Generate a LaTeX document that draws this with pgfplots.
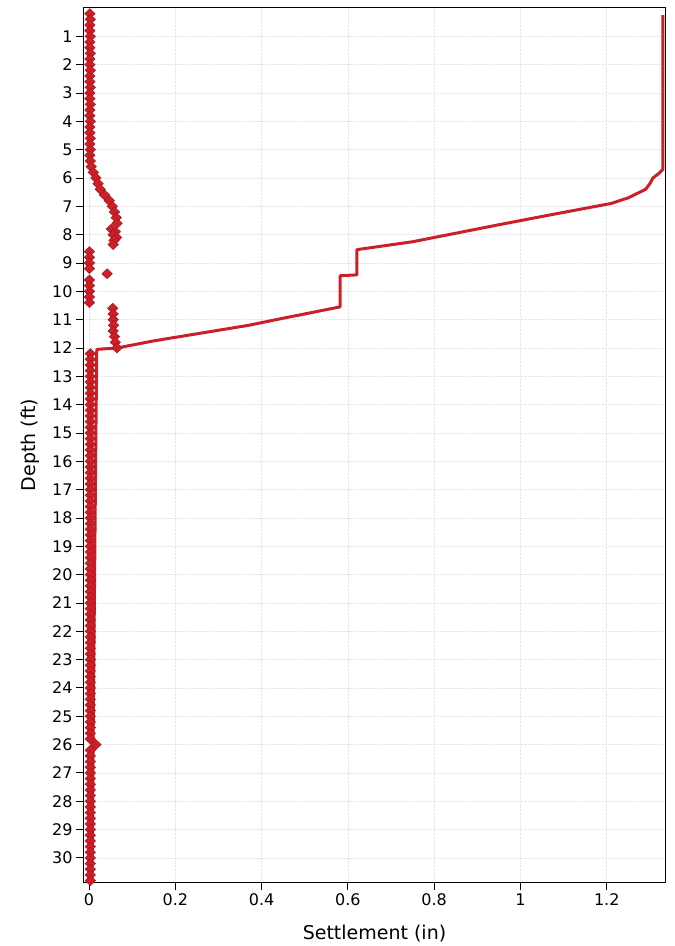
\documentclass[border=0pt]{standalone}
\usepackage{fontspec}
\setmainfont{DejaVu Sans}
\usepackage{pgfplots}
\pgfplotsset{compat=1.18}
\definecolor{setred}{RGB}{204,32,40}
\definecolor{setdark}{RGB}{170,20,30}
\begin{document}
\begin{tikzpicture}
\begin{axis}[
  name=ax,
  scale only axis,
  width=581pt, height=874pt,
  xmin=-0.0116, xmax=1.335,
  ymin=0, ymax=30.85,
  y dir=reverse,
  xtick={0,0.2,0.4,0.6,0.8,1,1.2},
  ytick={1,2,...,30},
  tick align=outside,
  xtick pos=left, ytick pos=left,
  major tick length=8pt,
  tick style={black, line width=0.9pt},
  axis line style={black, line width=1pt},
  grid=major,
  major grid style={gray!20, densely dotted, line width=0.6pt},
  /pgf/number format/assume math mode=true,
  tick label style={font=\fontsize{16}{19}\selectfont},
  every axis y label/.style={at={(axis description cs:0,0.5)}, xshift=-54pt, rotate=90, anchor=center, font=\fontsize{19}{23}\selectfont},
  every axis x label/.style={at={(axis description cs:0.5,0)}, anchor=center, yshift=-52pt, font=\fontsize{19}{23}\selectfont},
  xlabel={Settlement (in)},
  ylabel={Depth (ft)},
]
% incremental settlement (diamonds)
\addplot[only marks, mark=diamond*, mark size=5pt, color=setred,
  mark options={xscale=1.4, fill=setred, draw=setdark, line width=0.5pt}]
coordinates {
(0.002,0.2)(0.003,0.4)(0.002,0.6)(0.002,0.8)(0.003,1.0)(0.002,1.2)(0.002,1.4)
(0.003,1.6)(0.002,1.8)(0.002,2.0)(0.003,2.2)(0.002,2.4)(0.002,2.6)(0.003,2.8)
(0.002,3.0)(0.002,3.2)(0.003,3.4)(0.002,3.6)(0.002,3.8)(0.003,4.0)(0.002,4.2)
(0.002,4.4)(0.003,4.6)(0.002,4.8)(0.003,5.0)(0.002,5.2)(0.003,5.4)
(0.005,5.6)(0.010,5.8)(0.016,6.0)(0.021,6.2)(0.026,6.4)(0.036,6.6)(0.047,6.8)
(0.054,7.0)(0.059,7.2)(0.063,7.4)(0.065,7.6)(0.052,7.8)(0.061,7.9)(0.056,8.0)
(0.064,8.1)(0.058,8.2)(0.056,8.35)
(0.001,8.6)(0.001,8.8)(0.001,9.0)(0.001,9.2)(0.042,9.38)(0.001,9.6)(0.001,9.8)
(0.001,10.0)(0.001,10.2)(0.001,10.4)
(0.055,10.6)(0.056,10.8)(0.056,11.0)(0.057,11.2)(0.056,11.4)(0.059,11.6)
(0.061,11.8)(0.065,12.0)
(0.003,12.2)(0.003,12.4)(0.003,12.6)(0.003,12.8)(0.003,13.0)(0.003,13.2)
(0.003,13.4)(0.003,13.6)(0.003,13.8)(0.003,14.0)(0.003,14.2)(0.003,14.4)
(0.003,14.6)(0.003,14.8)(0.003,15.0)(0.003,15.2)(0.003,15.4)(0.003,15.6)
(0.003,15.8)(0.003,16.0)(0.003,16.2)(0.003,16.4)(0.003,16.6)(0.003,16.8)
(0.003,17.0)(0.003,17.2)(0.003,17.4)(0.003,17.6)(0.003,17.8)(0.003,18.0)
(0.003,18.2)(0.003,18.4)(0.003,18.6)(0.003,18.8)(0.003,19.0)(0.003,19.2)
(0.003,19.4)(0.003,19.6)(0.003,19.8)(0.003,20.0)(0.003,20.2)(0.003,20.4)
(0.003,20.6)(0.003,20.8)(0.003,21.0)(0.003,21.2)(0.003,21.4)(0.003,21.6)
(0.003,21.8)(0.003,22.0)(0.003,22.2)(0.003,22.4)(0.003,22.6)(0.003,22.8)
(0.003,23.0)(0.003,23.2)(0.003,23.4)(0.003,23.6)(0.003,23.8)(0.003,24.0)
(0.003,24.2)(0.003,24.4)(0.003,24.6)(0.003,24.8)(0.003,25.0)(0.003,25.2)
(0.003,25.4)(0.003,25.6)(0.003,25.8)(0.016,26.0)(0.003,26.2)(0.003,26.4)
(0.003,26.6)(0.003,26.8)(0.003,27.0)(0.003,27.2)(0.003,27.4)(0.003,27.6)
(0.003,27.8)(0.003,28.0)(0.003,28.2)(0.003,28.4)(0.003,28.6)(0.003,28.8)
(0.003,29.0)(0.003,29.2)(0.003,29.4)(0.003,29.6)(0.003,29.8)(0.003,30.0)
(0.003,30.2)(0.003,30.4)(0.003,30.6)(0.003,30.8)
};
% cumulative settlement (line)
\addplot[color=setred, line width=3pt, mark=none, line join=round]
coordinates {
(1.330,0.25)(1.330,5.70)(1.320,5.85)(1.307,6.00)(1.300,6.20)(1.290,6.40)
(1.250,6.70)(1.210,6.90)(1.140,7.10)(1.070,7.30)(0.950,7.65)(0.850,7.95)
(0.750,8.25)(0.621,8.53)(0.621,9.42)(0.582,9.45)(0.582,10.55)
(0.450,10.95)(0.370,11.20)(0.250,11.50)(0.150,11.75)(0.065,12.00)
(0.018,12.05)(0.016,15.0)(0.013,20.0)(0.010,25.0)(0.007,30.85)
};
\end{axis}
\pgfresetboundingbox
\path ([xshift=-84pt,yshift=-64pt]ax.south west) rectangle ([xshift=9pt,yshift=8pt]ax.north east);
\end{tikzpicture}
\end{document}
